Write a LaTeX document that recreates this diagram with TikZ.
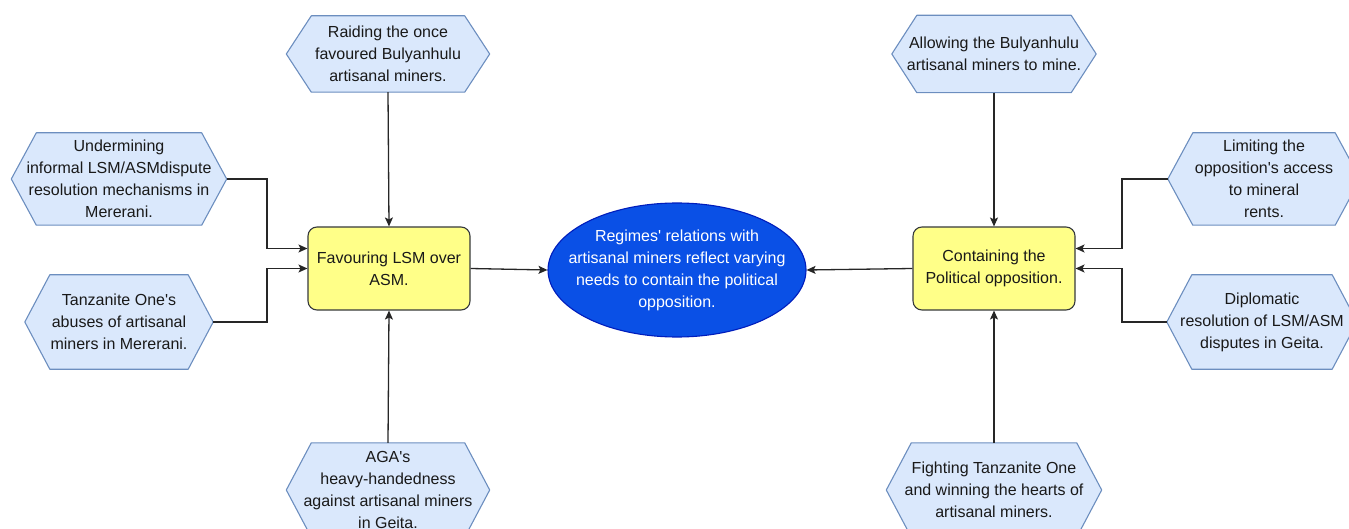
\documentclass[tikz,border=0pt]{standalone}
\usepackage{fontspec}
\setmainfont{Liberation Sans}
\usetikzlibrary{arrows.meta,shapes.geometric,backgrounds,calc}
\definecolor{hexfill}{HTML}{DAE8FC}
\definecolor{hexline}{HTML}{6C8EBF}
\definecolor{boxfill}{HTML}{FFFF88}
\definecolor{boxline}{HTML}{36393D}
\definecolor{ellfill}{HTML}{0A50E6}
\definecolor{ellline}{HTML}{001DBC}
\tikzset{
  every node/.style={font=\fontsize{16}{22}\selectfont, align=center, inner sep=0pt, text=black!90},
  hexnode/.style={minimum width=#1},
  hexsize/.style={minimum height=#1},
  hexdraw/.style={fill=hexfill, draw=hexline, line width=1.1pt, line join=round},
  rbox/.style={fill=boxfill, draw=boxline, line width=1.1pt, rounded corners=9pt, minimum width=162pt, minimum height=83pt},
  ell/.style={ellipse, fill=ellfill, draw=ellline, line width=1.1pt, minimum width=258pt, minimum height=134pt},
  elltext/.style={text=white},
  arr/.style={draw=black!85, line width=1.3pt, -{Stealth[length=9pt,width=8pt,inset=2pt]}},
}
\newcommand{\q}{\textquotesingle}
\begin{document}
\begin{tikzpicture}[x=1pt,y=-1pt]
\useasboundingbox (0,0) rectangle (1349,529);
% hexagon nodes
\node[hexnode=203pt, hexsize=76pt] (h1) at (388,54) {Raiding the once\\favoured Bulyanhulu\\artisanal miners.};
\node[hexnode=215pt, hexsize=92pt] (h2) at (119,179) {Undermining\\informal LSM/ASMdispute\\resolution mechanisms in\\Mererani.};
\node[hexnode=188pt, hexsize=94pt] (h3) at (119,322) {Tanzanite One\q s\\abuses of artisanal\\miners in Mererani.};
\node[hexnode=203pt, hexsize=94pt] (h4) at (388,490) {AGA\q s\\heavy-handedness\\against artisanal miners\\in Geita.};
\node[hexnode=204pt, hexsize=77pt] (h5) at (994,54) {Allowing the Bulyanhulu\\artisanal miners to mine.};
\node[hexnode=192pt, hexsize=92pt] (h6) at (1264,179) {Limiting the\\opposition\q s access\\to mineral\\rents.};
\node[hexnode=190pt, hexsize=94pt] (h7) at (1262,322) {Diplomatic\\resolution of LSM/ASM\\disputes in Geita.};
\node[hexnode=215pt, hexsize=94pt] (h8) at (994,490) {Fighting Tanzanite One\\and winning the hearts of\\artisanal miners.};
\begin{scope}[on background layer]
\foreach \n in {h1,h2,h3,h4,h5,h6,h7,h8}{
  \draw[hexdraw] (\n.west) -- ([xshift=25pt]\n.north west) -- ([xshift=-25pt]\n.north east) -- (\n.east) -- ([xshift=-25pt]\n.south east) -- ([xshift=25pt]\n.south west) -- cycle;
}
\end{scope}
% central nodes
\node[rbox] (f) at (389,268.5) {Favouring LSM over\\ASM.};
\node[rbox] (c) at (994,268.5) {Containing the\\Political opposition.};
\node[ell] (e) at (677,270) {};
\node[elltext] (et) at (e.center) {Regimes\q\ relations with\\artisanal miners reflect varying\\needs to contain the political\\opposition.};
% junction coordinates
\coordinate (jl) at (267,0);
\coordinate (jr) at (1122,0);
% connectors
\draw[arr] (h1.south) -- (f.north);
\draw[arr] (h4.north) -- (f.south);
\draw[arr] (h2.east) -- (h2.east -| jl) |- ([yshift=20pt]f.west);
\draw[arr] (h3.east) -- (h3.east -| jl) |- (f.west);
\draw[arr] (f.east) -- (e.west);
\draw[arr] (c.west) -- (e.east);
\draw[arr] (h5.south) -- (c.north);
\draw[arr] (h8.north) -- (c.south);
\draw[arr] (h6.west) -- (h6.west -| jr) |- ([yshift=20pt]c.east);
\draw[arr] (h7.west) -- (h7.west -| jr) |- (c.east);
\end{tikzpicture}
\end{document}
